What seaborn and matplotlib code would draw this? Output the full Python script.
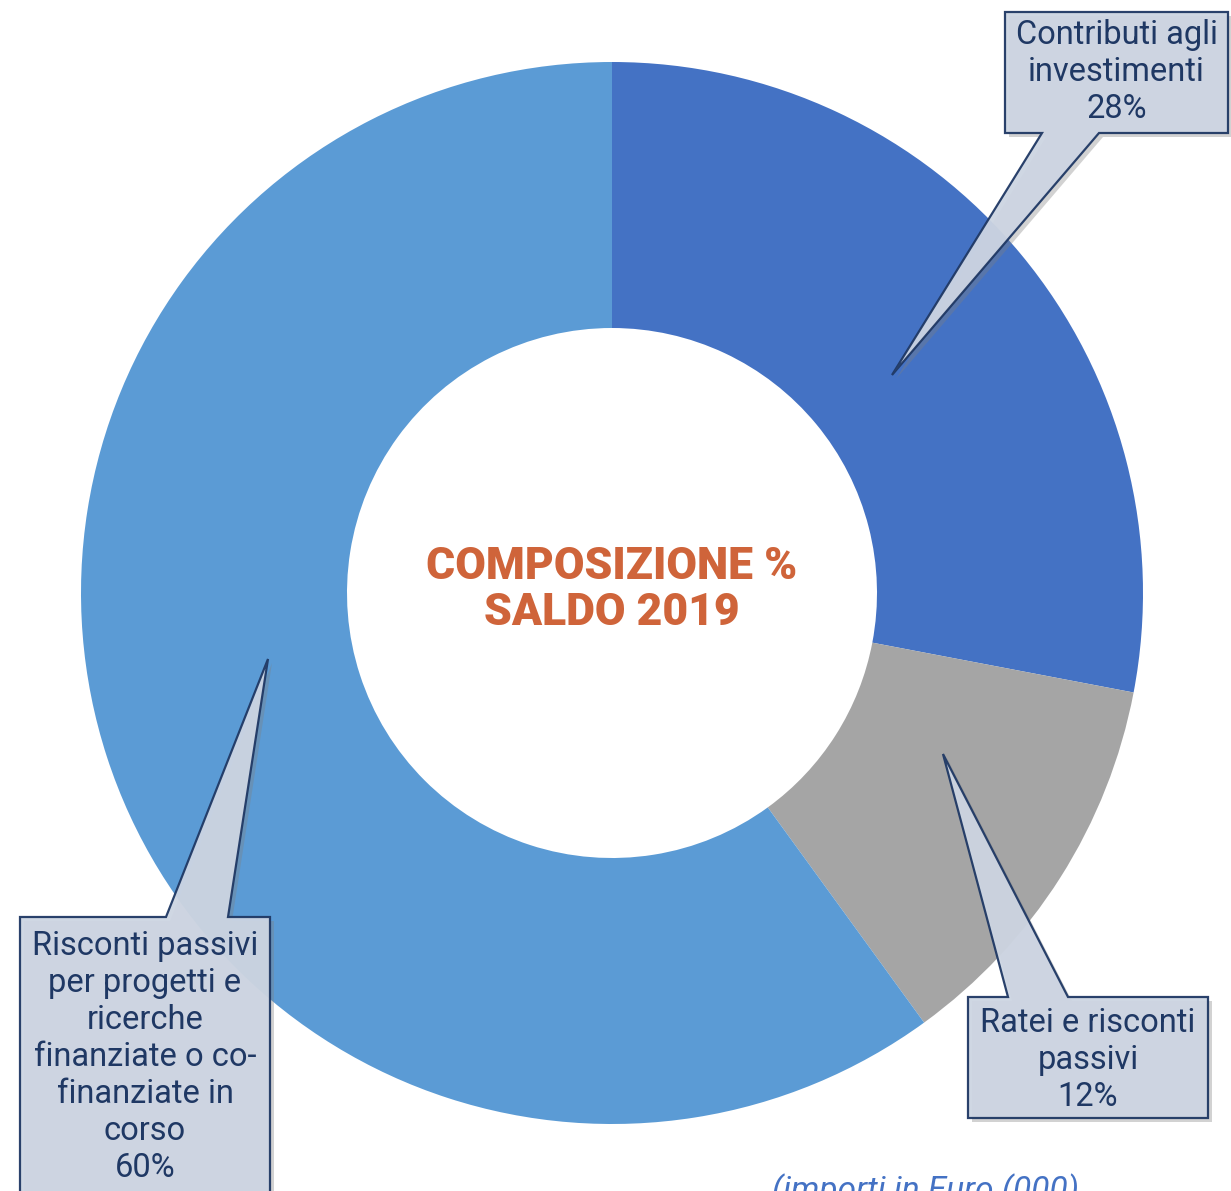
import matplotlib
matplotlib.use("Agg")
import matplotlib.pyplot as plt
from matplotlib.patches import Polygon
import seaborn as sns

# slice data (clockwise from 12 o'clock)
labels = ["Contributi agli\ninvestimenti",
          "Ratei e risconti\npassivi",
          "Risconti passivi\nper progetti e\nricerche\nfinanziate o co-\nfinanziate in\ncorso"]
shares = [28, 12, 60]
colors = ["#4472C4", "#A5A5A5", "#5B9BD5"]

center_title = "COMPOSIZIONE %\nSALDO 2019"
footnote = "(importi in Euro (000)"

W, H = 1231, 1191


def py(y):
    # pixel row (top-down) -> data y (bottom-up)
    return H - y


def callout(ax, box, base, tip, text, text_y):
    """Speech-bubble style label: box (x0, y0, x1, y1), pointer base x pair, tip point."""
    x0, y0, x1, y1 = box
    bx0, bx1 = base
    tx, ty = tip
    if ty > y1:   # pointer leaves from the bottom edge
        pts = [(x0, y0), (x1, y0), (x1, y1), (bx1, y1), (tx, ty), (bx0, y1), (x0, y1)]
    else:         # pointer leaves from the top edge
        pts = [(x0, y0), (bx0, y0), (tx, ty), (bx1, y0), (x1, y0), (x1, y1), (x0, y1)]
    pts = [(x, py(y)) for x, y in pts]
    shadow = Polygon([(x + 4, y - 4) for x, y in pts], closed=True,
                     facecolor="#7f7f7f", edgecolor="none", alpha=0.35, zorder=3)
    ax.add_patch(shadow)
    ax.add_patch(Polygon(pts, closed=True, facecolor="#CDD5E2", edgecolor="#1F3864",
                         linewidth=1.6, alpha=0.95, zorder=4))
    ax.text((x0 + x1) / 2, py(text_y), text, ha="center", va="center",
            fontsize=23.5, color="#1F3864", linespacing=1.2, zorder=5)


sns.set_theme(style="white")
plt.rcParams["font.family"] = ["Roboto", "DejaVu Sans"]

fig = plt.figure(figsize=(W / 100, H / 100), dpi=100)
ax = fig.add_axes([0, 0, 1, 1])
ax.set_xlim(0, W)
ax.set_ylim(0, H)
ax.set_aspect("equal")
ax.axis("off")

ax.pie(shares, colors=colors, startangle=90, counterclock=False,
       center=(612, py(593)), radius=531,
       wedgeprops=dict(width=266, edgecolor="none"))
ax.set_xlim(0, W)
ax.set_ylim(0, H)

ax.text(612, py(590), center_title, ha="center", va="center", fontsize=32,
        fontweight="heavy", color="#CF643A", linespacing=1.12)

callout(ax, (1005, 12, 1228, 133), (1042, 1099), (892, 375),
        labels[0] + "\n%d%%" % shares[0], 72)
callout(ax, (968, 997, 1208, 1118), (1008, 1068), (943, 754),
        labels[1] + "\n%d%%" % shares[1], 1060)
callout(ax, (20, 917, 270, 1230), (166, 228), (268, 659),
        labels[2] + "\n%d%%" % shares[2], 1057)

ax.text(772, py(1174), footnote, ha="left", va="top", fontsize=24,
        style="italic", color="#4472C4")

fig.savefig("out.png", dpi=100)
